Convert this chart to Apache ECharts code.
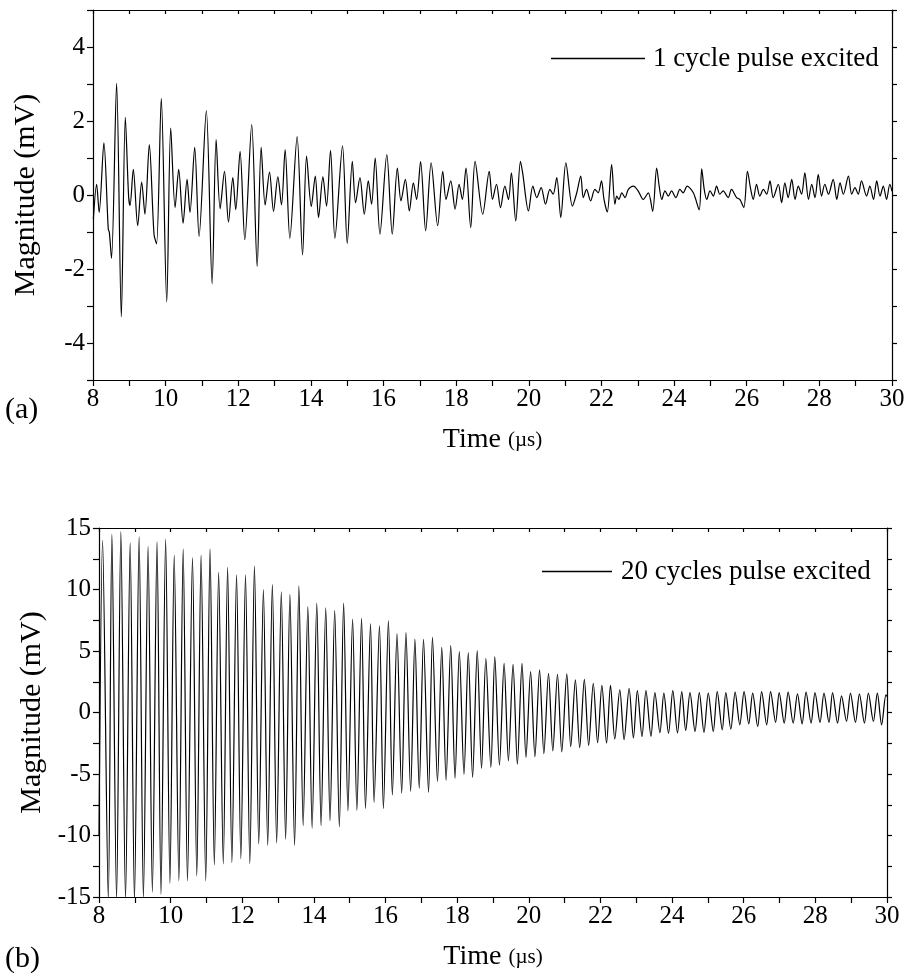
<!DOCTYPE html>
<html>
<head>
<meta charset="utf-8">
<script src="https://cdn.jsdelivr.net/npm/echarts@6/dist/echarts.min.js"></script>
<style>
  html, body { margin: 0; padding: 0; background: #fff; }
  #chart { width: 904px; height: 980px; }
</style>
</head>
<body>
<div id="chart"></div>
<script>
// (a) 1 cycle excitation, time in us, magnitude in mV (peaks/troughs)
const timeA = [
  8.01, 8.10, 8.17, 8.30, 8.42, 8.45, 8.51, 8.65, 8.78, 8.89, 8.98, 9.02, 9.11, 9.23, 9.34, 9.43,
  9.55, 9.68, 9.75, 9.88, 10.03, 10.14, 10.26, 10.36, 10.48, 10.59, 10.67, 10.80, 10.92, 11.12, 11.28, 11.39,
  11.50, 11.62, 11.73, 11.85, 11.93, 12.05, 12.18, 12.37, 12.52, 12.63, 12.74, 12.86, 12.97, 13.09, 13.19, 13.29,
  13.42, 13.62, 13.77, 13.88, 14.01, 14.12, 14.21, 14.33, 14.43, 14.54, 14.66, 14.87, 15.00, 15.14, 15.23, 15.35,
  15.47, 15.58, 15.67, 15.77, 15.90, 16.09, 16.24, 16.38, 16.48, 16.60, 16.71, 16.82, 16.91, 17.02, 17.16, 17.31,
  17.49, 17.63, 17.72, 17.85, 17.97, 18.08, 18.17, 18.27, 18.40, 18.52, 18.73, 18.91, 19.00, 19.11, 19.22, 19.34,
  19.44, 19.52, 19.64, 19.77, 19.83, 19.99, 20.11, 20.22, 20.34, 20.46, 20.58, 20.67, 20.77, 20.88, 21.02, 21.20,
  21.32, 21.43, 21.50, 21.59, 21.70, 21.82, 21.91, 22.00, 22.07, 22.16, 22.28, 22.37, 22.42, 22.48, 22.56, 22.65,
  22.74, 22.88, 23.01, 23.15, 23.29, 23.41, 23.52, 23.59, 23.66, 23.75, 23.84, 23.93, 24.05, 24.16, 24.25, 24.36,
  24.53, 24.69, 24.76, 24.83, 24.90, 24.99, 25.08, 25.17, 25.26, 25.35, 25.49, 25.58, 25.72, 25.81, 25.92, 26.02,
  26.11, 26.18, 26.27, 26.36, 26.46, 26.55, 26.64, 26.73, 26.87, 26.96, 27.05, 27.14, 27.24, 27.33, 27.42, 27.51,
  27.60, 27.70, 27.79, 27.88, 27.97, 28.06, 28.15, 28.25, 28.38, 28.48, 28.57, 28.66, 28.80, 28.89, 28.98, 29.07,
  29.16, 29.30, 29.39, 29.49, 29.58, 29.67, 29.76, 29.85, 29.94, 30.00
]
const magA = [
  -0.65, 0.29, -0.47, 1.41, -0.92, -1.01, -1.71, 3.02, -3.29, 2.10, -0.03, -0.28, 0.69, -0.83, 0.35, -0.52,
  1.36, -1.06, -1.32, 2.61, -2.89, 1.81, -0.34, 0.69, -0.76, 0.42, -0.47, 1.29, -1.12, 2.28, -2.40, 1.50,
  -0.37, 0.64, -0.73, 0.47, -0.40, 1.18, -1.21, 1.90, -1.93, 1.29, -0.27, 0.62, -0.44, 0.49, -0.27, 1.23,
  -1.17, 1.58, -1.62, 1.05, -0.31, 0.51, -0.61, 0.49, -0.30, 1.21, -1.17, 1.33, -1.31, 0.91, -0.21, 0.47,
  -0.52, 0.38, -0.25, 1.00, -1.06, 1.09, -1.06, 0.73, -0.16, 0.42, -0.43, 0.33, -0.12, 0.90, -0.97, 0.87,
  -0.83, 0.64, -0.12, 0.38, -0.38, 0.29, -0.12, 0.73, -0.88, 0.91, -0.52, 0.64, -0.12, 0.29, -0.34, 0.24,
  -0.12, 0.60, -0.70, 0.91, 0.60, -0.43, 0.24, -0.07, 0.20, -0.25, 0.15, 0.02, 0.47, -0.61, 0.87, -0.30,
  0.06, 0.51, -0.07, 0.15, -0.16, 0.15, 0.06, 0.38, -0.12, -0.46, 0.82, -0.25, -0.03, -0.12, 0.06, -0.07,
  0.15, 0.24, 0.11, -0.12, 0.06, -0.44, 0.73, 0.24, -0.12, 0.11, -0.03, 0.11, -0.07, 0.15, 0.06, 0.24,
  0.06, -0.40, 0.71, 0.15, -0.12, 0.11, -0.03, 0.24, 0.02, 0.11, -0.07, 0.15, -0.07, -0.12, -0.34, 0.64,
  0.15, -0.12, 0.29, -0.03, 0.15, 0.02, 0.38, -0.07, 0.29, -0.21, 0.33, -0.07, 0.42, -0.12, 0.24, 0.02,
  0.60, -0.12, 0.29, -0.07, 0.56, -0.03, 0.29, 0.02, 0.42, -0.12, 0.33, 0.02, 0.51, 0.02, 0.20, 0.02,
  0.38, -0.03, 0.24, -0.12, 0.38, -0.03, 0.24, -0.12, 0.29, 0.10
]

// (b) 20 cycles excitation
const timeB = [
  8.00, 8.10, 8.26, 8.36, 8.49, 8.61, 8.74, 8.87, 8.99, 9.12, 9.24, 9.37, 9.49, 9.62, 9.73, 9.86,
  9.98, 10.10, 10.23, 10.35, 10.47, 10.61, 10.73, 10.85, 10.98, 11.10, 11.22, 11.34, 11.47, 11.59, 11.71, 11.84,
  11.96, 12.09, 12.21, 12.34, 12.46, 12.59, 12.71, 12.84, 12.96, 13.09, 13.21, 13.33, 13.46, 13.58, 13.70, 13.83,
  13.95, 14.08, 14.20, 14.33, 14.45, 14.58, 14.71, 14.83, 14.95, 15.08, 15.20, 15.33, 15.44, 15.58, 15.68, 15.83,
  15.94, 16.08, 16.19, 16.32, 16.45, 16.57, 16.70, 16.82, 16.94, 17.06, 17.20, 17.31, 17.45, 17.57, 17.69, 17.82,
  17.94, 18.06, 18.19, 18.31, 18.43, 18.56, 18.68, 18.80, 18.94, 19.05, 19.18, 19.31, 19.43, 19.56, 19.68, 19.81,
  19.92, 20.05, 20.17, 20.30, 20.42, 20.55, 20.67, 20.80, 20.92, 21.06, 21.17, 21.30, 21.42, 21.55, 21.67, 21.80,
  21.92, 22.04, 22.17, 22.28, 22.40, 22.54, 22.66, 22.80, 22.92, 23.03, 23.16, 23.27, 23.41, 23.52, 23.66, 23.77,
  23.90, 24.02, 24.15, 24.27, 24.38, 24.50, 24.64, 24.76, 24.89, 25.01, 25.15, 25.26, 25.40, 25.50, 25.64, 25.76,
  25.89, 26.01, 26.14, 26.25, 26.39, 26.50, 26.64, 26.75, 26.89, 26.99, 27.13, 27.24, 27.38, 27.50, 27.63, 27.74,
  27.88, 27.99, 28.13, 28.24, 28.38, 28.48, 28.62, 28.73, 28.87, 28.98, 29.12, 29.23, 29.37, 29.48, 29.62, 29.73,
  29.85, 29.97, 30.00
]
const magB = [
  -10.0, 14.0, -15.2, 14.5, -15.2, 14.7, -15.2, 13.8, -15.3, 14.3, -15.1, 13.5, -14.6, 13.9, -14.8, 14.1,
  -13.9, 12.8, -13.7, 13.3, -13.7, 12.6, -13.3, 12.8, -13.7, 13.3, -12.4, 11.4, -12.3, 11.8, -12.2, 11.2,
  -11.9, 11.2, -12.3, 11.9, -10.7, 10.0, -10.8, 10.4, -10.6, 9.8, -10.3, 9.6, -10.8, 10.3, -9.2, 8.6,
  -9.4, 8.9, -9.2, 8.5, -8.8, 8.3, -9.3, 8.9, -8.0, 7.6, -7.95, 7.65, -7.8, 7.2, -7.3, 7.05,
  -7.8, 7.46, -6.7, 6.4, -6.55, 6.5, -6.4, 5.97, -6.15, 5.95, -6.47, 6.1, -5.6, 5.3, -5.5, 5.43,
  -5.35, 4.95, -5.03, 4.86, -5.27, 5.03, -4.55, 4.41, -4.47, 4.54, -4.28, 4.0, -3.93, 3.92, -4.2, 4.0,
  -3.66, 3.32, -3.58, 3.46, -3.34, 3.19, -3.13, 3.11, -3.21, 3.14, -2.78, 2.65, -2.86, 2.70, -2.67, 2.38,
  -2.46, 2.2, -2.5, 2.2, -2.15, 1.85, -2.2, 1.97, -2.07, 1.78, -1.96, 1.78, -1.94, 1.62, -1.64, 1.57,
  -1.7, 1.78, -1.65, 1.70, -1.46, 1.62, -1.54, 1.62, -1.62, 1.57, -1.54, 1.70, -1.41, 1.62, -1.35, 1.65,
  -1.0, 1.70, -0.92, 1.57, -1.14, 1.70, -1.0, 1.70, -0.81, 1.62, -0.86, 1.65, -0.86, 1.51, -0.92, 1.65,
  -0.86, 1.62, -0.81, 1.57, -0.81, 1.62, -0.86, 1.35, -0.73, 1.57, -0.81, 1.51, -0.86, 1.57, -0.73, 1.57,
  -1.0, 1.43, 1.3
]

const xTicksMin = 8
const xTicksMax = 30
const FONT = 'Liberation Serif'
const black = '#000'

const chart = echarts.init(document.getElementById('chart'), null, { renderer: 'canvas' })

function pairs (t, v) {
  return t.map((x, i) => [x, v[i]])
}

const lineStyle = { color: black, width: 1.2 }

// bottom axis with labels + mirrored top axis
function xAxes (grid) {
  return [{
    gridIndex: grid,
    type: 'value',
    position: 'bottom',
    min: xTicksMin,
    max: xTicksMax,
    interval: 2,
    axisLine: { show: true, onZero: false, lineStyle },
    axisTick: { show: true, inside: false, length: 6, lineStyle },
    minorTick: { show: true, splitNumber: 2, length: 6, lineStyle },
    splitLine: { show: false },
    axisLabel: { color: black, fontFamily: FONT, fontSize: 25, margin: 7 },
    name: 'Time {s|(µs)}',
    nameLocation: 'middle',
    nameGap: 46,
    nameTextStyle: {
      color: black, fontFamily: FONT, fontSize: 28,
      rich: { s: { color: black, fontFamily: FONT, fontSize: 21 } }
    }
  }, {
    gridIndex: grid,
    type: 'value',
    position: 'top',
    min: xTicksMin,
    max: xTicksMax,
    interval: 2,
    axisLine: { show: true, onZero: false, lineStyle },
    axisTick: { show: true, inside: true, length: 4, lineStyle },
    minorTick: { show: true, splitNumber: 2, length: 4, lineStyle },
    splitLine: { show: false },
    axisLabel: { show: false }
  }]
}

function yAxes (grid, min, max, interval, minor, formatter) {
  return [{
    gridIndex: grid,
    type: 'value',
    position: 'left',
    min: min,
    max: max,
    interval: interval,
    axisLine: { show: true, onZero: false, lineStyle },
    axisTick: { show: true, inside: false, length: 6, lineStyle },
    minorTick: { show: minor, splitNumber: 2, length: 6, lineStyle },
    splitLine: { show: false },
    axisLabel: { color: black, fontFamily: FONT, fontSize: 25, margin: 8, formatter: formatter },
    name: 'Magnitude (mV)',
    nameLocation: 'middle',
    nameRotate: 90,
    nameGap: 52,
    nameTextStyle: { color: black, fontFamily: FONT, fontSize: 30 }
  }, {
    gridIndex: grid,
    type: 'value',
    position: 'right',
    min: min,
    max: max,
    interval: interval,
    axisLine: { show: true, onZero: false, lineStyle },
    axisTick: { show: true, inside: false, length: 5, lineStyle },
    minorTick: { show: minor, splitNumber: 2, length: 5, lineStyle },
    splitLine: { show: false },
    axisLabel: { show: false }
  }]
}

const option = {
  animation: false,
  backgroundColor: '#fff',
  grid: [
    { left: 93, top: 10, width: 799, height: 370, outerBoundsMode: 'none' },
    { left: 99, top: 528, width: 788, height: 369, outerBoundsMode: 'none' }
  ],
  xAxis: [...xAxes(0), ...xAxes(1)],
  yAxis: [
    // (a) only even values are labelled
    ...yAxes(0, -5, 5, 1, false, v => (v % 2 === 0 ? String(v) : '')),
    ...yAxes(1, -15, 15, 5, true, v => String(v))
  ],
  legend: [{
    data: ['1 cycle pulse excited'],
    left: 546,
    top: 40,
    icon: 'rect',
    itemWidth: 94,
    itemHeight: 1.3,
    selectedMode: false,
    textStyle: { color: black, fontFamily: FONT, fontSize: 27, padding: [0, 0, 0, 3] }
  }, {
    data: ['20 cycles pulse excited'],
    left: 537,
    top: 553,
    icon: 'rect',
    itemWidth: 70,
    itemHeight: 1.3,
    selectedMode: false,
    textStyle: { color: black, fontFamily: FONT, fontSize: 27, padding: [0, 0, 0, 4] }
  }],
  graphic: [
    { type: 'text', left: 5, top: 395, style: { text: '(a)', fill: black, font: '30px "Liberation Serif"' } },
    { type: 'text', left: 5, top: 944, style: { text: '(b)', fill: black, font: '30px "Liberation Serif"' } }
  ],
  series: [{
    type: 'line',
    name: '1 cycle pulse excited',
    xAxisIndex: 0,
    yAxisIndex: 0,
    data: pairs(timeA, magA),
    symbol: 'none',
    smooth: 0.3,
    clip: true,
    lineStyle,
    itemStyle: { color: black }
  }, {
    type: 'line',
    name: '20 cycles pulse excited',
    xAxisIndex: 2,
    yAxisIndex: 2,
    data: pairs(timeB, magB),
    symbol: 'none',
    smooth: 0.3,
    clip: true,
    lineStyle,
    itemStyle: { color: black }
  }]
}

chart.setOption(option)
</script>
</body>
</html>
